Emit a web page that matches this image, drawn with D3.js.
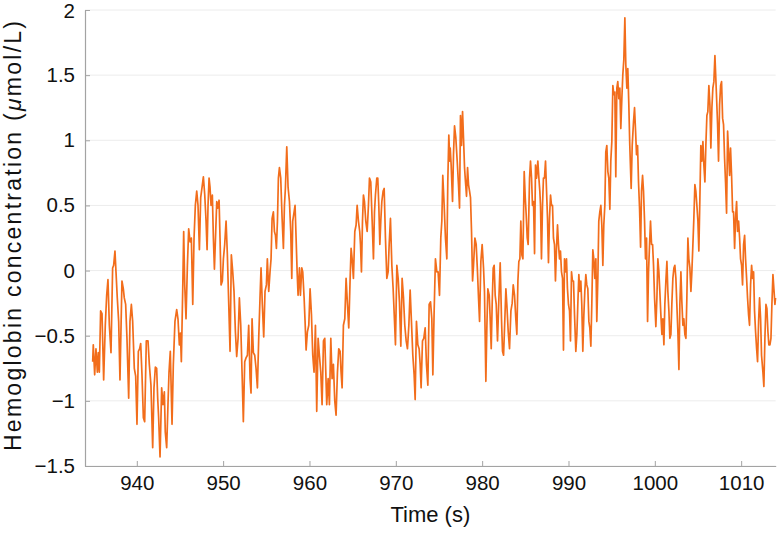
<!DOCTYPE html>
<html><head><meta charset="utf-8">
<script src="https://cdn.jsdelivr.net/npm/d3@7"></script>
<style>body{margin:0;background:#fff}svg{display:block}</style>
</head><body>
<svg id="chart" width="780" height="533"></svg>
<script>
// [time (s), hemoglobin concentration (µmol/L)]
const samples = [
[934.89,-0.70],[934.96,-0.57],[935.12,-0.80],[935.27,-0.60],[935.43,-0.78],[935.54,-0.63],[935.66,-0.78],[935.81,-0.31],[935.97,-0.33],[936.16,-0.84],[936.35,-0.42],[936.51,-0.19],[936.66,-0.07],[936.82,-0.42],[937.01,-0.63],[937.20,0.02],[937.32,0.04],[937.47,0.15],[937.59,-0.01],[937.74,-0.21],[937.90,-0.39],[938.05,-0.84],[938.28,-0.08],[938.44,-0.14],[938.55,-0.21],[938.71,-0.26],[938.86,-0.52],[939.06,-0.98],[939.21,-0.39],[939.37,-0.26],[939.52,-0.39],[939.71,-0.75],[939.87,-0.81],[940.02,-1.18],[940.18,-0.62],[940.33,-0.60],[940.45,-0.56],[940.60,-0.80],[940.76,-1.13],[940.91,-1.16],[941.10,-0.54],[941.30,-0.54],[941.45,-0.72],[941.64,-0.88],[941.84,-1.36],[941.99,-0.90],[942.15,-0.74],[942.30,-0.75],[942.42,-0.98],[942.53,-1.13],[942.69,-1.43],[942.88,-0.90],[943.03,-1.03],[943.19,-0.93],[943.30,-1.24],[943.46,-1.36],[943.61,-1.03],[943.73,-0.78],[943.88,-0.62],[944.08,-1.18],[944.23,-0.72],[944.42,-0.39],[944.62,-0.30],[944.77,-0.37],[944.93,-0.57],
[945.05,-0.48],[945.16,-0.70],[945.32,-0.14],[945.43,0.30],[945.55,-0.11],[945.70,-0.37],[945.86,0.04],[946.01,0.32],[946.17,0.22],[946.32,0.25],[946.48,-0.26],[946.63,0.25],[946.78,0.50],[946.94,0.61],[947.09,0.50],[947.25,0.16],[947.40,0.56],[947.56,0.64],[947.71,0.72],[947.87,0.58],[948.02,0.38],[948.14,0.16],[948.25,0.50],[948.37,0.71],[948.48,0.64],[948.60,0.50],[948.75,0.58],[948.87,0.25],[948.99,0.01],[949.14,0.30],[949.26,0.53],[949.37,0.48],[949.53,0.54],[949.64,0.25],[949.76,-0.11],[949.91,-0.08],[950.03,0.09],[950.18,0.20],[950.34,0.38],[950.49,0.12],[950.65,-0.26],[950.80,-0.62],[950.95,0.12],[951.11,-0.01],[951.26,-0.16],[951.42,-0.47],[951.57,-0.66],[951.73,-0.52],[951.88,-0.21],[952.04,-0.42],[952.19,-0.78],[952.34,-1.16],[952.50,-0.70],[952.65,-0.67],[952.81,-0.65],[952.96,-0.42],[953.12,-0.83],[953.23,-0.94],[953.35,-0.37],[953.50,-0.63],[953.66,-0.65],[953.81,-0.75],[953.97,-0.90],[954.12,-0.52],[954.27,-0.21],[954.39,0.02],[954.54,-0.26],[954.70,-0.51],[954.85,-0.16],[955.01,-0.11],[955.12,0.09],[955.28,-0.16],[955.43,-0.01],
[955.55,0.09],[955.67,0.40],[955.82,0.45],[955.94,0.30],[956.06,0.27],[956.17,0.17],[956.29,0.38],[956.40,0.71],[956.52,0.79],[956.67,0.71],[956.83,0.40],[956.98,0.17],[957.10,0.50],[957.21,0.63],[957.37,0.95],[957.52,0.64],[957.68,0.53],[957.83,0.30],[957.95,-0.06],[958.06,0.38],[958.22,0.45],[958.33,0.50],[958.45,0.25],[958.57,-0.01],[958.68,-0.19],[958.84,0.02],[958.95,-0.19],[959.11,0.02],[959.22,-0.01],[959.38,-0.21],[959.49,-0.39],[959.61,-0.61],[959.76,-0.47],[959.92,-0.42],[960.07,-0.14],[960.23,-0.34],[960.38,-0.65],[960.53,-0.78],[960.69,-0.42],[960.84,-1.08],[961.00,-0.52],[961.15,-0.65],[961.31,-0.78],[961.46,-1.03],[961.62,-0.54],[961.77,-0.52],[961.89,-0.78],[962.00,-1.03],[962.16,-0.83],[962.31,-1.03],[962.47,-0.52],[962.62,-0.83],[962.77,-0.72],[962.93,-1.00],[963.08,-1.11],[963.24,-0.78],[963.39,-0.60],[963.55,-0.62],[963.66,-0.78],[963.78,-0.90],[963.93,-0.42],[964.09,-0.37],[964.24,-0.06],[964.40,-0.26],[964.55,-0.44],[964.70,-0.08],[964.82,0.17],[964.94,0.09],[965.09,-0.06],[965.25,0.30],[965.40,0.35],[965.52,0.50],[965.67,0.38],[965.82,0.30],
[965.91,0.20],[966.02,-0.01],[966.14,0.38],[966.25,0.58],[966.37,0.53],[966.52,0.38],[966.68,0.30],[966.83,0.50],[966.95,0.71],[967.10,0.68],[967.26,0.38],[967.41,0.09],[967.53,0.45],[967.64,0.58],[967.80,0.71],[967.91,0.71],[968.03,0.50],[968.15,0.20],[968.26,0.38],[968.38,0.53],[968.53,0.61],[968.65,0.63],[968.80,0.25],[968.96,-0.06],[969.11,-0.01],[969.23,0.20],[969.38,0.40],[969.54,0.04],[969.69,-0.14],[969.85,-0.39],[969.96,-0.57],[970.12,0.04],[970.27,-0.06],[970.42,-0.24],[970.58,-0.58],[970.73,-0.06],[970.89,-0.21],[971.04,-0.42],[971.20,-0.54],[971.35,-0.60],[971.51,-0.42],[971.66,-0.15],[971.81,-0.39],[971.97,-0.65],[972.12,-0.80],[972.24,-0.99],[972.39,-0.39],[972.55,-0.57],[972.70,-0.60],[972.82,-0.72],[972.93,-0.90],[973.09,-0.54],[973.24,-0.52],[973.40,-0.44],[973.55,-0.72],[973.71,-0.88],[973.86,-0.26],[974.02,-0.24],[974.17,-0.37],[974.29,-0.80],[974.44,-0.31],[974.59,0.09],[974.75,-0.01],[974.90,-0.01],[975.06,-0.19],[975.21,0.25],[975.33,0.38],[975.44,0.73],[975.60,0.50],[975.75,0.25],[975.91,0.09],[976.02,0.68],[976.14,1.04],[976.25,0.84],
[976.30,0.94],[976.41,0.81],[976.57,0.53],[976.68,0.89],[976.80,1.11],[976.95,1.02],[977.11,0.84],[977.26,0.66],[977.38,0.48],[977.49,1.19],[977.61,0.96],[977.73,1.22],[977.84,1.02],[977.96,0.79],[978.07,0.68],[978.19,0.57],[978.31,0.79],[978.42,0.66],[978.54,0.61],[978.65,0.56],[978.77,0.30],[978.89,-0.08],[979.00,0.04],[979.16,0.25],[979.31,0.20],[979.46,-0.01],[979.58,-0.21],[979.70,-0.39],[979.85,0.07],[980.00,0.20],[980.16,0.02],[980.27,-0.16],[980.43,-0.85],[980.55,-0.42],[980.66,-0.14],[980.82,-0.19],[980.93,-0.37],[981.05,-0.60],[981.16,-0.26],[981.28,0.02],[981.39,0.04],[981.51,-0.19],[981.63,-0.26],[981.78,-0.54],[981.94,-0.21],[982.09,0.06],[982.24,-0.37],[982.36,-0.62],[982.48,-0.65],[982.63,-0.37],[982.75,-0.14],[982.86,-0.26],[983.02,-0.47],[983.17,-0.60],[983.33,-0.31],[983.48,-0.25],[983.60,-0.11],[983.75,-0.19],[983.90,-0.37],[984.02,-0.49],[984.14,-0.08],[984.25,0.07],[984.37,0.09],[984.48,0.38],[984.60,0.12],[984.72,0.09],[984.87,0.76],[984.99,0.56],[985.10,0.43],[985.22,0.25],[985.33,0.20],[985.49,0.71],[985.60,0.84],[985.72,0.71],[985.83,0.50],[985.95,0.53],[986.07,0.13],[986.18,0.81],[986.30,0.71],[986.45,0.84],[986.57,0.71],[986.68,0.61],
[986.76,0.50],[986.87,0.09],[986.99,0.50],[987.10,0.71],[987.22,0.71],[987.34,0.84],[987.45,0.63],[987.57,0.40],[987.68,0.06],[987.80,0.40],[987.92,0.58],[988.03,0.50],[988.15,0.50],[988.26,0.25],[988.38,0.20],[988.49,-0.08],[988.61,0.17],[988.73,0.35],[988.84,0.20],[988.96,0.09],[989.07,0.15],[989.19,-0.01],[989.31,-0.06],[989.42,-0.61],[989.54,0.09],[989.65,-0.01],[989.77,0.09],[989.88,-0.14],[990.00,-0.26],[990.12,-0.31],[990.23,-0.54],[990.35,-0.01],[990.46,-0.08],[990.58,-0.08],[990.70,-0.34],[990.85,-0.62],[990.97,-0.49],[991.08,-0.26],[991.20,-0.03],[991.31,-0.16],[991.43,-0.08],[991.54,-0.26],[991.66,-0.62],[991.78,-0.34],[991.89,-0.16],[992.01,-0.03],[992.12,-0.11],[992.24,-0.14],[992.36,-0.39],[992.47,-0.44],[992.59,-0.58],[992.70,-0.26],[992.82,0.16],[992.93,0.09],[993.05,-0.06],[993.17,0.09],[993.28,-0.39],[993.40,-0.06],[993.51,0.38],[993.63,0.45],[993.75,0.50],[993.86,0.35],[993.98,0.04],[994.09,0.35],[994.21,0.50],[994.32,0.91],[994.44,0.96],[994.56,0.76],[994.67,0.71],[994.79,0.47],[994.90,0.84],[995.02,0.99],[995.14,1.42],[995.25,1.35],[995.37,1.37],[995.48,0.72],[995.60,1.40],[995.71,1.45],[995.83,1.32],[995.95,1.40],[996.06,1.09],[996.18,1.32],[996.29,1.50],[996.41,1.62],[996.53,1.94],[996.64,1.58],[996.76,1.40],[996.87,1.55],[996.99,1.27],[997.10,0.96],
[997.26,0.63],[997.38,0.96],[997.53,1.14],[997.65,1.25],[997.77,1.07],[997.88,0.89],[998.00,0.96],[998.11,0.68],[998.23,0.48],[998.35,0.18],[998.46,0.61],[998.58,0.73],[998.69,0.61],[998.81,0.38],[998.92,0.09],[999.04,0.25],[999.16,-0.39],[999.27,-0.01],[999.39,0.20],[999.50,0.38],[999.62,0.20],[999.74,0.20],[999.85,0.04],[999.97,-0.21],[1000.12,-0.43],[1000.24,-0.21],[1000.35,0.09],[1000.47,-0.01],[1000.58,-0.16],[1000.70,-0.34],[1000.82,-0.49],[1000.93,-0.37],[1001.05,-0.57],[1001.16,-0.26],[1001.28,-0.08],[1001.40,0.07],[1001.51,-0.16],[1001.63,-0.31],[1001.74,-0.52],[1001.86,-0.49],[1001.97,-0.26],[1002.09,-0.06],[1002.21,0.02],[1002.32,0.04],[1002.44,-0.06],[1002.55,-0.26],[1002.67,-0.47],[1002.79,-0.76],[1002.90,-0.26],[1003.02,-0.01],[1003.13,-0.24],[1003.25,-0.42],[1003.36,-0.37],[1003.48,-0.49],[1003.60,-0.52],[1003.71,-0.21],[1003.83,0.25],[1003.94,0.09],[1004.06,0.02],[1004.18,-0.16],[1004.29,-0.01],[1004.41,0.20],[1004.52,0.40],[1004.64,0.66],[1004.75,0.61],[1004.87,0.50],[1004.99,0.38],[1005.10,0.15],[1005.22,0.56],[1005.33,0.96],[1005.45,0.84],[1005.57,0.99],[1005.68,0.81],[1005.80,0.68],[1005.91,0.96],[1006.03,1.19],[1006.14,1.22],[1006.26,1.42],[1006.38,1.27],[1006.49,0.94],[1006.61,1.25],[1006.72,1.40],[1006.84,1.45],[1006.96,1.65],
[1007.11,1.40],[1007.27,1.12],[1007.38,0.84],[1007.50,1.27],[1007.62,1.42],[1007.73,1.45],[1007.85,1.17],[1007.96,1.12],[1008.08,0.86],[1008.19,0.68],[1008.31,0.44],[1008.43,1.07],[1008.54,0.91],[1008.66,0.73],[1008.77,0.94],[1008.89,0.73],[1009.01,0.45],[1009.12,0.45],[1009.24,0.17],[1009.35,0.40],[1009.47,0.53],[1009.58,0.30],[1009.70,0.38],[1009.82,0.25],[1009.93,0.09],[1010.05,0.04],[1010.16,-0.11],[1010.28,0.20],[1010.40,0.27],[1010.51,0.09],[1010.63,-0.06],[1010.74,-0.21],[1010.86,-0.34],[1010.97,-0.42],[1011.09,-0.11],[1011.21,0.04],[1011.32,-0.06],[1011.44,-0.01],[1011.55,-0.31],[1011.67,-0.47],[1011.79,-0.60],[1011.90,-0.70],[1012.02,-0.39],[1012.13,-0.21],[1012.25,-0.37],[1012.36,-0.65],[1012.52,-0.78],[1012.63,-0.89],[1012.75,-0.52],[1012.87,-0.26],[1012.98,-0.29],[1013.10,-0.47],[1013.21,-0.57],[1013.33,-0.57],[1013.45,-0.52],[1013.56,-0.26],[1013.68,-0.03],[1013.79,-0.14],[1013.91,-0.26],[1013.98,-0.21]
];
const xDomain = [934, 1014];
const yDomain = [-1.5, 2];
const xTicks = [940, 950, 960, 970, 980, 990, 1000, 1010];
const yTicks = [-1.5, -1, -0.5, 0, 0.5, 1, 1.5, 2];
const xTitle = "Time (s)";
const lineColor = "#f26d1b";

const svg = d3.select("#chart");
const L = 85, R = 775.7, T = 10, B = 466;
const x = d3.scaleLinear().domain(xDomain).range([L, R]);
const y = d3.scaleLinear().domain(yDomain).range([B, T]);
const font = "'Liberation Sans', Arial, Helvetica, sans-serif";
const axisColor = "#a3a3a3";

// gridlines
svg.append("g").selectAll("line").data(yTicks).join("line")
  .attr("x1", L).attr("x2", R)
  .attr("y1", d => y(d)).attr("y2", d => y(d))
  .attr("stroke", "#ececec").attr("stroke-width", 1);

const fmt = d => d < 0 ? "\u2212" + Math.abs(d) : String(d);

const yAxis = svg.append("g").attr("transform", `translate(${L},0)`)
  .call(d3.axisLeft(y).tickValues(yTicks).tickFormat(fmt).tickSizeInner(-5).tickSizeOuter(0).tickPadding(10));
const xAxis = svg.append("g").attr("transform", `translate(0,${B})`)
  .call(d3.axisBottom(x).tickValues(xTicks).tickFormat(d3.format("d")).tickSizeInner(-5).tickSizeOuter(0).tickPadding(9));
[yAxis, xAxis].forEach(g => {
  g.select(".domain").attr("stroke", axisColor).attr("stroke-width", 1.2);
  g.selectAll(".tick line").attr("stroke", axisColor);
  g.selectAll(".tick text").attr("fill", "#111").attr("font-size", 20.5).attr("font-family", font);
});
// keep the top label's box inside the picture
yAxis.selectAll(".tick text").filter(d => d === yDomain[1]).attr("dy", "0.38em");

// data line
const line = d3.line().x(d => x(d[0])).y(d => y(d[1]));
svg.append("path").datum(samples)
  .attr("d", line).attr("fill", "none")
  .attr("stroke", lineColor).attr("stroke-width", 1.7).attr("stroke-linejoin", "round");

// axis titles
svg.append("text").attr("x", (L + R) / 2).attr("y", 522)
  .attr("text-anchor", "middle").attr("font-size", 22).attr("font-family", font).attr("fill", "#111")
  .text(xTitle);

const yt = svg.append("text").attr("transform", `translate(21,236) rotate(-90)`)
  .attr("text-anchor", "middle").attr("font-size", 23).attr("font-family", font).attr("fill", "#111")
  .attr("textLength", 430).attr("lengthAdjust", "spacing");
yt.append("tspan").text("Hemoglobin concentration (");
yt.append("tspan").attr("font-style", "italic").text("\u03bc");
yt.append("tspan").text("mol/L)");
</script>
</body></html>
